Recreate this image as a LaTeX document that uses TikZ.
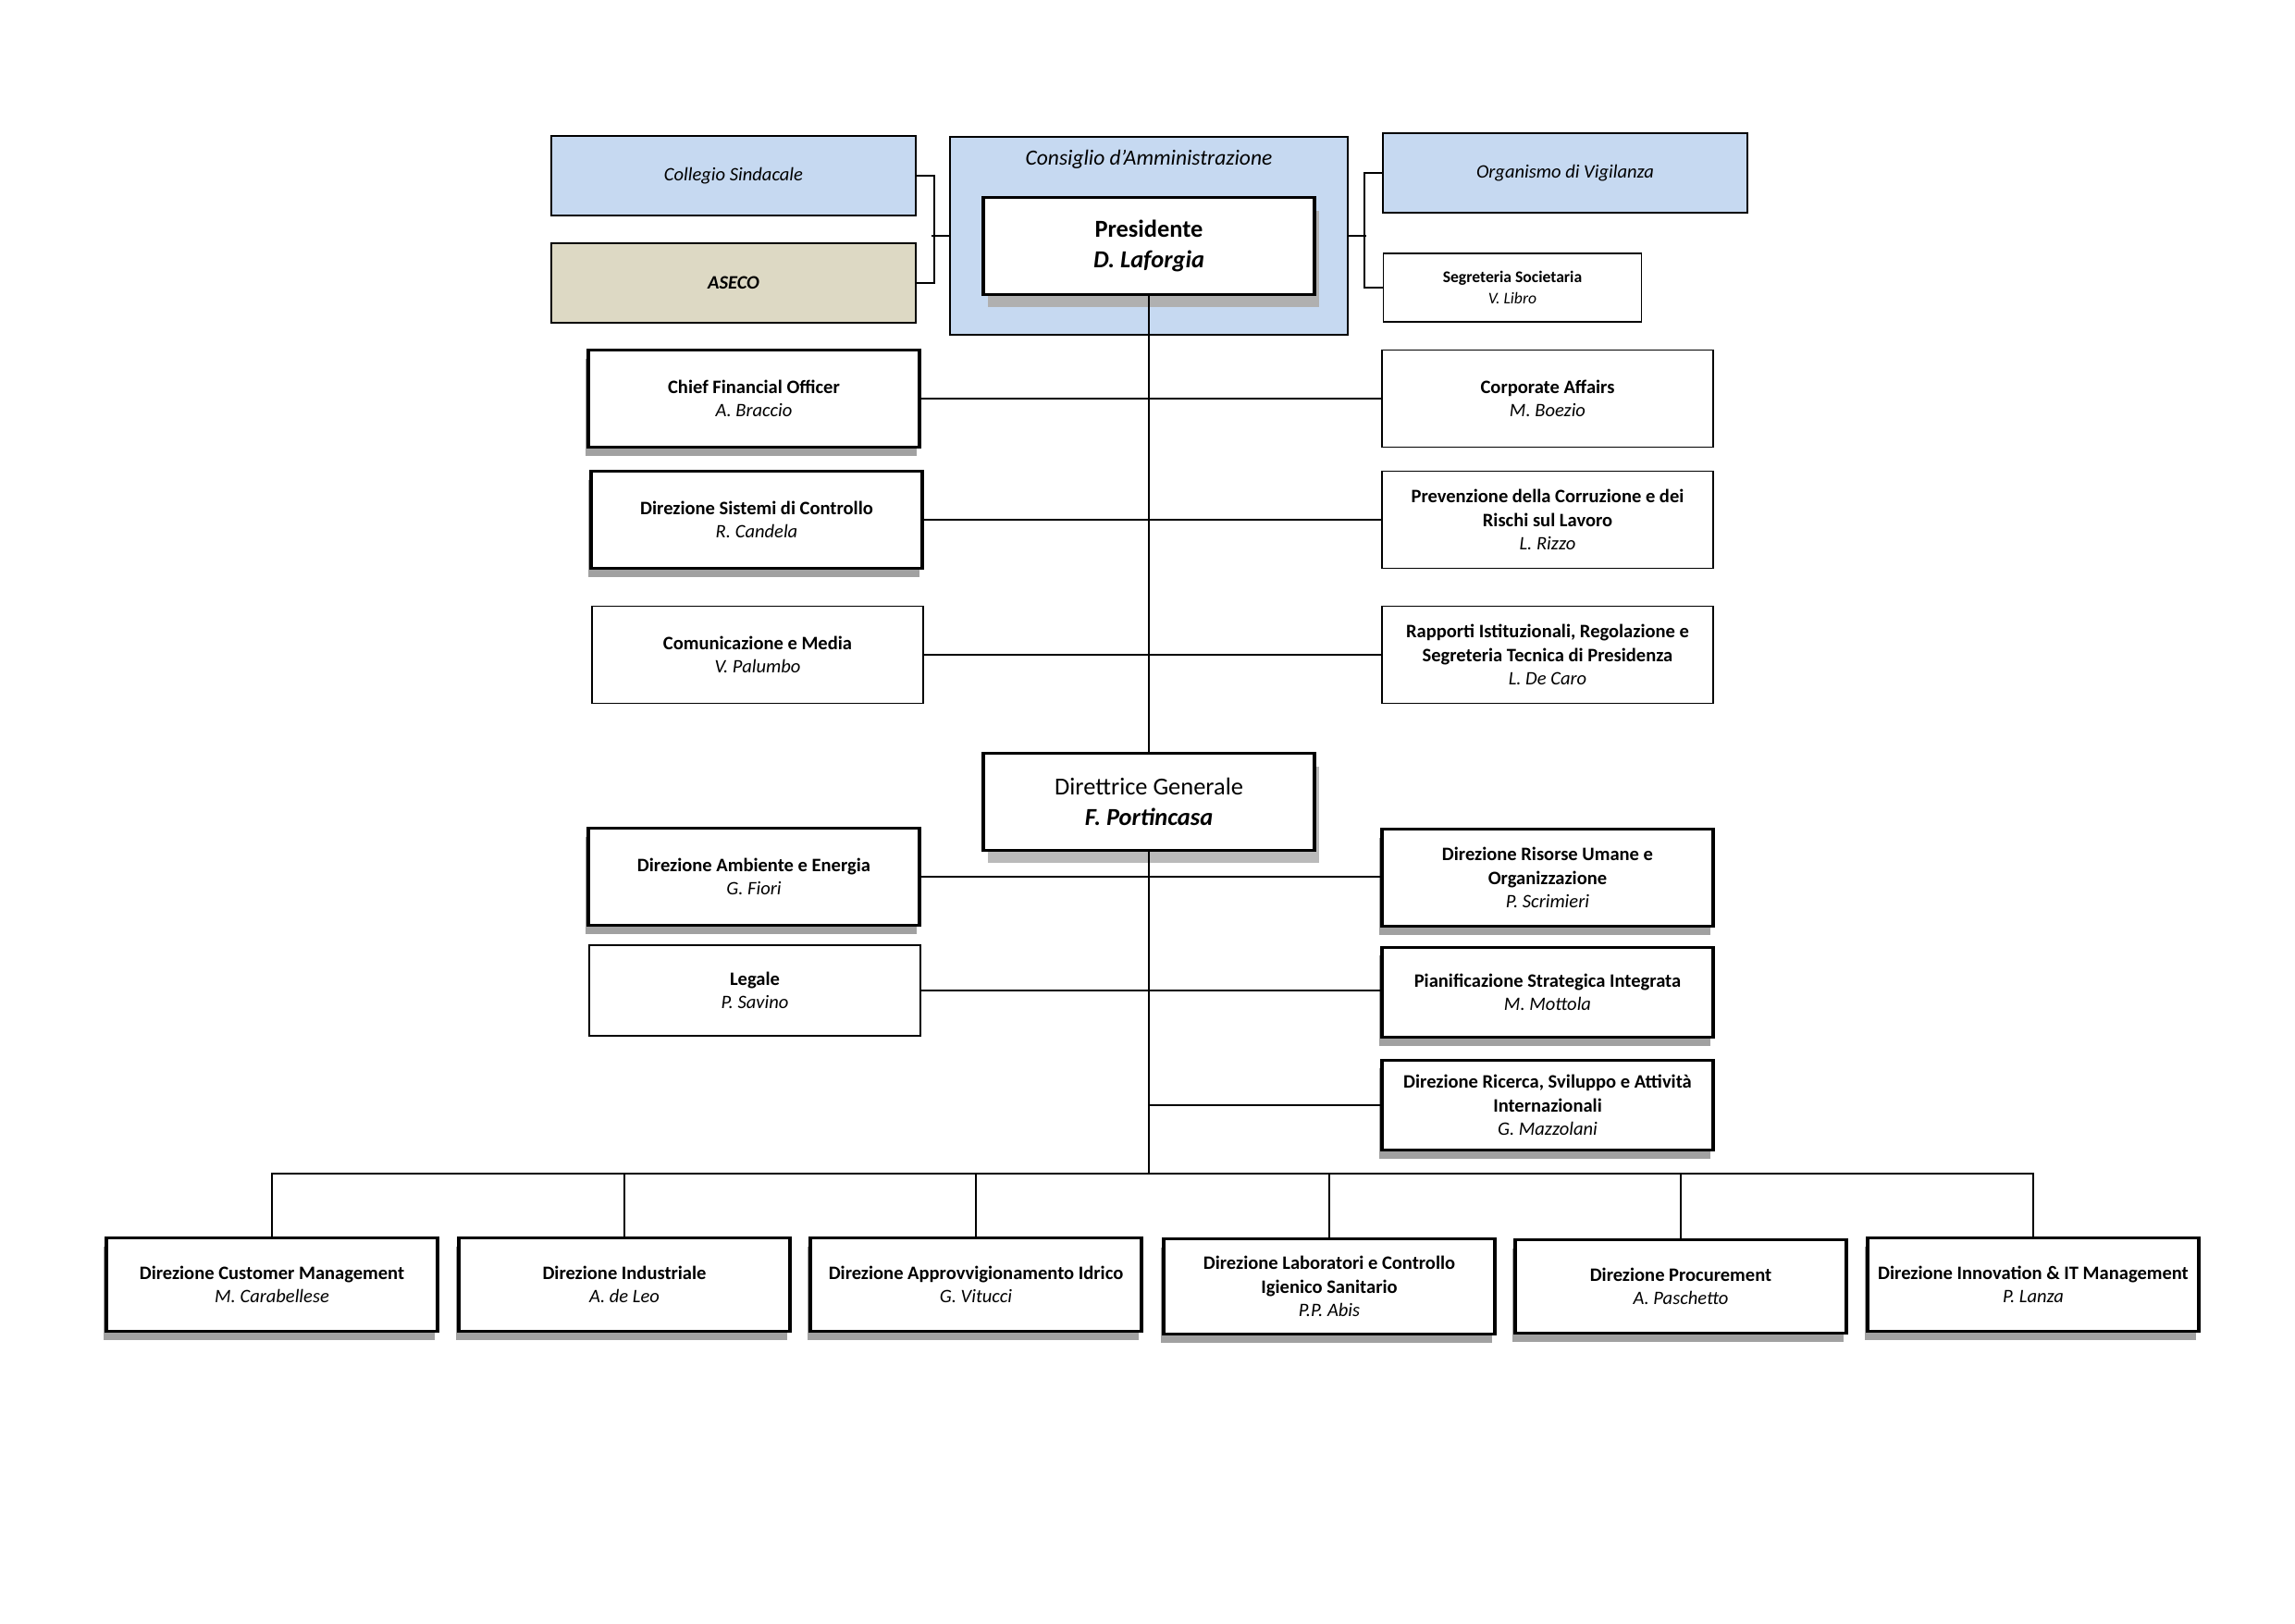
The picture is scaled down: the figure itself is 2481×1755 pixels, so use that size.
\documentclass[tikz,border=0pt]{standalone}
\usepackage{fontspec}
\setmainfont{Carlito}
\usepackage{tikz}
\usetikzlibrary{shadows}
\definecolor{azzurro}{HTML}{C6D9F1}
\definecolor{sabbia}{HTML}{DDD9C4}

\begin{document}
\begin{tikzpicture}[x=0.011971cm,y=-0.011971cm,
    every node/.style={align=center,inner sep=1pt},
    linea/.style={line width=0.5pt},
    asse/.style={line width=1pt},
    ufficio/.style={draw,line width=0.5pt,fill=white,minimum width=4.29cm,minimum height=1.26cm,
        font=\fontsize{7}{8.6}\selectfont},
    direz/.style={ufficio,line width=1.1pt,
        drop shadow={shadow xshift=-0.04cm,shadow yshift=-0.11cm,fill=black!37,opacity=1}},
    vertice/.style={draw,line width=1.1pt,fill=white,minimum width=4.29cm,minimum height=1.25cm,
        font=\fontsize{9}{11}\selectfont,
        drop shadow={shadow xshift=0.06cm,shadow yshift=-0.17cm,fill=black!27,opacity=1}},
    organo/.style={draw,line width=0.7pt,fill=azzurro,minimum width=4.72cm,minimum height=1.02cm,
        font=\fontsize{7}{8.6}\selectfont}]

\useasboundingbox (0,0) rectangle (2481,1755);

%the board
    \node[organo,minimum width=5.14cm,minimum height=2.57cm,
        label={[anchor=north,yshift=-0.14cm,font=\fontsize{8}{10}\selectfont]north:\textit{Consiglio d’Amministrazione}}]
        (cda) at (1242,255) {};
    \node[vertice,drop shadow={shadow xshift=0.06cm,shadow yshift=-0.17cm,fill=black!35,opacity=0.45}] (pres) at (1242,266)
        {\textbf{Presidente}\\\textbf{\textit{D. Laforgia}}};
    \node[organo] (cs) at (793,190) {\textit{Collegio Sindacale}};
    \node[organo,fill=sabbia] (aseco) at (793,306) {\textbf{\textit{ASECO}}};
    \node[organo] (odv) at (1692,187) {\textit{Organismo di Vigilanza}};
    \node[ufficio,minimum width=3.34cm,minimum height=0.89cm,font=\fontsize{6}{7.6}\selectfont] (segr) at (1635,311)
        {\textbf{Segreteria Societaria}\\\textit{V. Libro}};

    \draw[linea] (cs.east) -- ++(19,0) |- (aseco.east);
    \draw[linea] (cda.west) -- ++(-19,0);
    \draw[linea] (odv.west) -- ++(-19,0) |- (segr.west);
    \draw[linea] (cda.east) -- ++(19,0);

%staff of the president
    \node[direz] (cfo) at (815,431) {\textbf{Chief Financial Officer}\\\textit{A. Braccio}};
    \node[ufficio] (corp) at (1673,431) {\textbf{Corporate Affairs}\\\textit{M. Boezio}};
    \node[direz] (sis) at (818,562) {\textbf{Direzione Sistemi di Controllo}\\\textit{R. Candela}};
    \node[ufficio] (prev) at (1673,562)
        {\textbf{Prevenzione della Corruzione e dei}\\\textbf{Rischi sul Lavoro}\\\textit{L. Rizzo}};
    \node[ufficio] (com) at (819,708) {\textbf{Comunicazione e Media}\\\textit{V. Palumbo}};
    \node[ufficio] (rapp) at (1673,708)
        {\textbf{Rapporti Istituzionali, Regolazione e}\\\textbf{Segreteria Tecnica di Presidenza}\\\textit{L. De Caro}};

%general manager
    \node[vertice] (dg) at (1242,867) {Direttrice Generale\\\textbf{\textit{F. Portincasa}}};
    \coordinate (sp) at (1242,567);
    \draw[asse] (pres.south) -- (sp);
    \draw[linea] (sp) -- (dg.north);

%staff of the general manager
    \node[direz] (amb) at (815,948) {\textbf{Direzione Ambiente e Energia}\\\textit{G. Fiori}};
    \node[direz] (ris) at (1673,949)
        {\textbf{Direzione Risorse Umane e}\\\textbf{Organizzazione}\\\textit{P. Scrimieri}};
    \node[ufficio,minimum height=1.17cm] (leg) at (816,1071) {\textbf{Legale}\\\textit{P. Savino}};
    \node[direz,minimum height=1.17cm] (pian) at (1673,1073)
        {\textbf{Pianificazione Strategica Integrata}\\\textit{M. Mottola}};
    \node[direz,minimum height=1.17cm] (ric) at (1673,1195)
        {\textbf{Direzione Ricerca, Sviluppo e Attività}\\\textbf{Internazionali}\\\textit{G. Mazzolani}};

    \foreach \a/\b in {cfo/corp,sis/prev,com/rapp,amb/ris,leg/pian}
        \draw[linea] (\a.east) -- (\a.east -| \b.west);
    \draw[linea] (dg.south |- ric.west) -- (ric.west);

%line directions
    \node[direz,minimum height=1.21cm] (d1) at (294,1389)
        {\textbf{Direzione Customer Management}\\\textit{M. Carabellese}};
    \node[direz,minimum height=1.21cm] (d2) at (675,1389)
        {\textbf{Direzione Industriale}\\\textit{A. de Leo}};
    \node[direz,minimum height=1.21cm] (d3) at (1055,1389)
        {\textbf{Direzione Approvvigionamento Idrico}\\\textit{G. Vitucci}};
    \node[direz,minimum height=1.23cm] (d4) at (1437,1391)
        {\textbf{Direzione Laboratori e Controllo}\\\textbf{Igienico Sanitario}\\\textit{P.P. Abis}};
    \node[direz,minimum height=1.21cm] (d5) at (1817,1391)
        {\textbf{Direzione Procurement}\\\textit{A. Paschetto}};
    \node[direz,minimum height=1.21cm] (d6) at (2198,1389)
        {\textbf{Direzione Innovation \& IT Management}\\\textit{P. Lanza}};

    \coordinate (bus) at (1242,1269);
    \draw[linea] (dg.south) -- (bus);
    \foreach \i in {1,...,6}
        \draw[linea] (d\i.north) |- (bus);
\end{tikzpicture}
\end{document}
